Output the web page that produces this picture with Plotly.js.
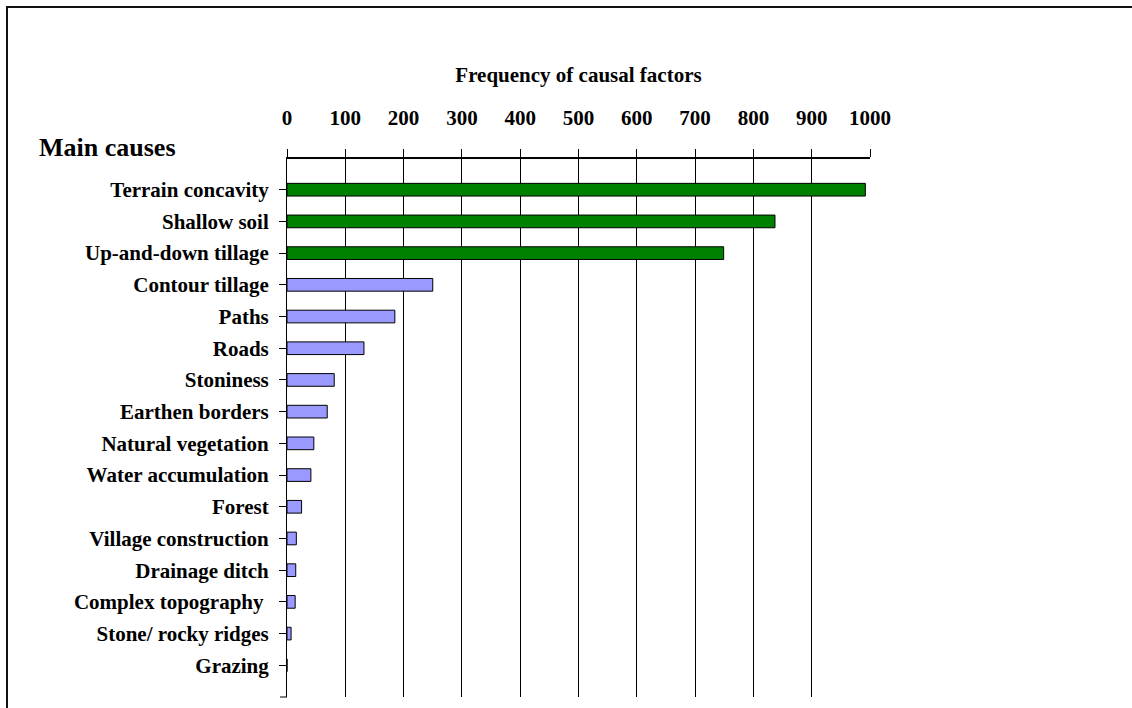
<!DOCTYPE html>
<html>
<head>
<meta charset="utf-8">
<script src="https://cdn.plot.ly/plotly-3.0.1.min.js"></script>
<style>
  html, body { margin: 0; padding: 0; background: #fff; }
  #wrap { position: relative; width: 1132px; height: 708px; }
  #chart { width: 1132px; height: 708px; }
  #frame { position: absolute; left: 6px; top: 6px; right: 0; bottom: 0;
           border-top: 2px solid #111; border-left: 2px solid #111; pointer-events: none; }
</style>
</head>
<body>
<div id="wrap"><div id="chart"></div><div id="frame"></div></div>
<script>
// Categories (top to bottom)
const categories = [
  "Terrain concavity", "Shallow soil", "Up-and-down tillage", "Contour tillage",
  "Paths", "Roads", "Stoniness", "Earthen borders", "Natural vegetation",
  "Water accumulation", "Forest", "Village construction", "Drainage ditch",
  "Complex topography ", "Stone/ rocky ridges", "Grazing"
];
// Frequencies
const frequencies = [992, 837, 749, 250, 185, 132, 81, 69, 46, 41, 25, 16, 15, 14, 7, 0];
// First three are the main causes (green)
const mainCount = 3;
const xTicks = [0, 100, 200, 300, 400, 500, 600, 700, 800, 900, 1000];

const fontFam = "Liberation Serif, Times New Roman, serif";

const mainTrace = {
  type: "bar", orientation: "h",
  y: categories.slice(0, mainCount), x: frequencies.slice(0, mainCount),
  width: 0.4,
  marker: { color: "#008000", line: { color: "#000", width: 1 } },
  hoverinfo: "x+y"
};
const otherTrace = {
  type: "bar", orientation: "h",
  y: categories.slice(mainCount), x: frequencies.slice(mainCount),
  width: 0.4,
  marker: { color: "#9999FF", line: { color: "#000", width: 1 } },
  hoverinfo: "x+y"
};

const layout = {
  width: 1132, height: 708,
  margin: { l: 287, r: 262, t: 158, b: 11, pad: 0 },
  paper_bgcolor: "#fff", plot_bgcolor: "#fff",
  showlegend: false, barmode: "overlay",
  font: { family: fontFam, color: "#000" },
  title: {
    text: "Frequency of causal factors",
    font: { family: fontFam, size: 21, weight: "bold", color: "#000" },
    x: 0.5, xref: "paper", y: 1 - 75 / 708, yref: "container", yanchor: "middle"
  },
  xaxis: {
    side: "top", range: [0, 1000], tickvals: xTicks, ticktext: xTicks.map(String),
    ticks: "outside", ticklen: 8, tickcolor: "#000", tickwidth: 1,
    ticklabelstandoff: 16,
    showgrid: true, gridcolor: "#000", gridwidth: 1,
    showline: true, linecolor: "#000", linewidth: 1,
    zeroline: false,
    tickfont: { family: fontFam, size: 21, weight: "bold", color: "#000" },
    fixedrange: true
  },
  yaxis: {
    type: "category", categoryorder: "array", categoryarray: categories,
    range: [16, -1],
    ticks: "outside", ticklen: 7, tickcolor: "#000", tickwidth: 1,
    ticklabelstandoff: 6,
    showline: true, linecolor: "#000", linewidth: 1,
    showgrid: false, zeroline: false,
    tickfont: { family: fontFam, size: 21, weight: "bold", color: "#000" },
    fixedrange: true
  },
  annotations: [{
    text: "Main causes", xref: "paper", yref: "paper",
    x: -0.4288, y: (697 - 148) / 539, xanchor: "left", yanchor: "middle",
    showarrow: false,
    font: { family: fontFam, size: 26, weight: "bold", color: "#000" }
  }],
  shapes: [
    { type: "line", xref: "paper", yref: "paper", x0: -7 / 583, x1: 0, y0: 0, y1: 0,
      line: { color: "#000", width: 1 } },
    { type: "line", xref: "paper", yref: "paper", x0: 0, x1: 1, y0: 0.999, y1: 0.999,
      layer: "above", line: { color: "#000", width: 1 } }
  ]
};

Plotly.newPlot("chart", [mainTrace, otherTrace], layout, { displayModeBar: false, staticPlot: true });
</script>
</body>
</html>
